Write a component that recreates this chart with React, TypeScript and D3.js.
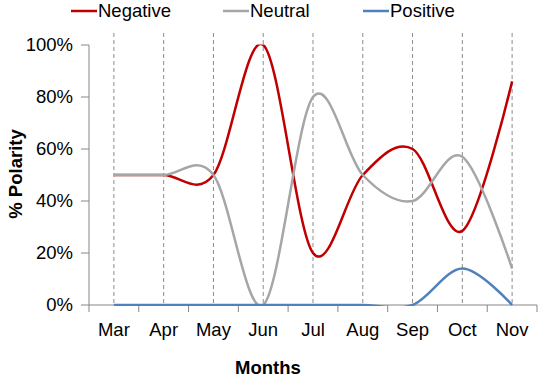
import * as d3 from 'd3';

// categories and series (fractions of 1)
const months = ['Mar', 'Apr', 'May', 'Jun', 'Jul', 'Aug', 'Sep', 'Oct', 'Nov'];
const negative = [0.5, 0.5, 0.5, 1.0, 0.2, 0.5, 0.6, 0.285, 0.86];
const neutral = [0.5, 0.5, 0.5, 0.0, 0.8, 0.5, 0.4, 0.57, 0.14];
const positive = [0, 0, 0, 0, 0, 0, 0, 0.14, 0];
const yTicks = [0, 0.2, 0.4, 0.6, 0.8, 1.0];

const seriesNames = ['Negative', 'Neutral', 'Positive'];
const seriesColors = ['#C00000', '#A6A6A6', '#4F81BD'];

export default function App() {
  const width = 545;
  const height = 378;
  const font = '"Liberation Sans", Arial, sans-serif';

  const x = d3.scaleBand<string>().domain(months).range([89, 537]).padding(0);
  const y = d3.scaleLinear().domain([0, 1]).range([305, 45]);
  const cx = (m: string) => (x(m) ?? 0) + x.bandwidth() / 2;

  const line = d3
    .line<number>()
    .x((_, i) => cx(months[i]))
    .y((d) => y(d))
    .curve(d3.curveCardinal.tension(0));

  const series = [negative, neutral, positive];

  // tick positions at the band edges
  const xTickPos = months.map((m) => x(m) ?? 0).concat([x.range()[1]]);

  return (
    <svg
      width={width}
      height={height}
      style={{ position: 'absolute', left: 0, top: 0, background: '#fff' }}
      fontFamily={font}
    >
      <defs>
        <clipPath id="plotClip">
          <rect
            x={x.range()[0]}
            y={y(1) - 0.5}
            width={x.range()[1] - x.range()[0]}
            height={y(0) - y(1) + 1.5}
          />
        </clipPath>
      </defs>

      {/* vertical dashed lines at each month */}
      {months.map((m) => (
        <line
          key={`g-${m}`}
          x1={cx(m)}
          x2={cx(m)}
          y1={33}
          y2={y(0)}
          stroke="#8c8c8c"
          strokeWidth={1}
          strokeDasharray="4,3"
        />
      ))}

      {/* y axis */}
      <line x1={x.range()[0]} x2={x.range()[0]} y1={y(1)} y2={y(0)} stroke="#868686" />
      {yTicks.map((t) => (
        <g key={`yt-${t}`}>
          <line x1={x.range()[0] - 8} x2={x.range()[0]} y1={y(t)} y2={y(t)} stroke="#868686" />
          <text x={73} y={y(t)} dy="0.35em" textAnchor="end" fontSize={18.5} fill="#000">
            {d3.format('.0%')(t)}
          </text>
        </g>
      ))}

      {/* x axis */}
      <line x1={x.range()[0]} x2={x.range()[1]} y1={y(0)} y2={y(0)} stroke="#868686" />
      {xTickPos.map((p, i) => (
        <line key={`xt-${i}`} x1={p} x2={p} y1={y(0)} y2={y(0) + 7} stroke="#868686" />
      ))}
      {months.map((m) => (
        <text key={`xl-${m}`} x={cx(m)} y={336} textAnchor="middle" fontSize={18.5} fill="#000">
          {m}
        </text>
      ))}

      {/* series */}
      <g clipPath="url(#plotClip)">
        {series.map((s, i) => (
          <path
            key={seriesNames[i]}
            d={line(s) ?? ''}
            fill="none"
            stroke={seriesColors[i]}
            strokeWidth={2.5}
          />
        ))}
      </g>

      {/* axis titles */}
      <text x={268} y={374} textAnchor="middle" fontSize={18.5} fontWeight="bold" fill="#000">
        Months
      </text>
      <text
        transform={`translate(22, ${174}) rotate(-90)`}
        textAnchor="middle"
        fontSize={18.5}
        fontWeight="bold"
        fill="#000"
      >
        % Polarity
      </text>

      {/* legend */}
      {seriesNames.map((name, i) => {
        const lx = [71, 223, 363][i];
        return (
          <g key={`lg-${name}`}>
            <line x1={lx} x2={lx + 26} y1={11} y2={11} stroke={seriesColors[i]} strokeWidth={2.5} />
            <text x={lx + 27} y={11} dy="0.35em" fontSize={18.5} fill="#000">
              {name}
            </text>
          </g>
        );
      })}
    </svg>
  );
}
